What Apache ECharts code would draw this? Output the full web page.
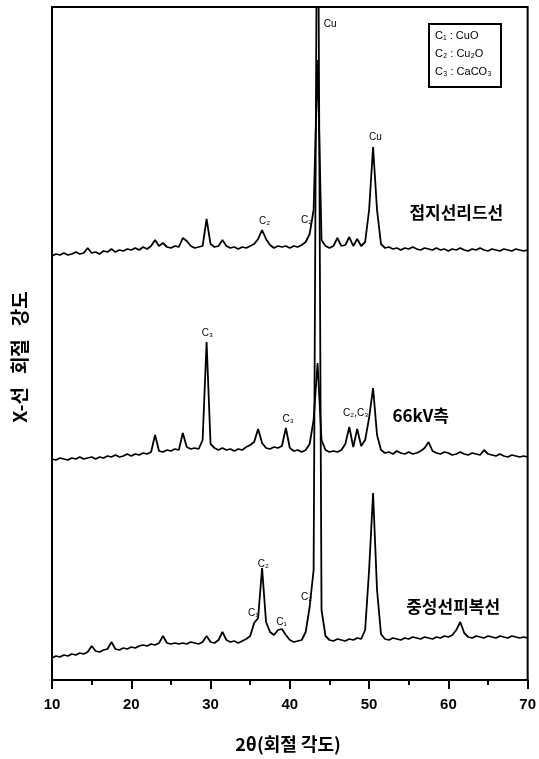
<!DOCTYPE html>
<html><head><meta charset="utf-8">
<script src="https://cdn.jsdelivr.net/npm/echarts@6/dist/echarts.min.js"></script>
<style>html,body{margin:0;padding:0;background:#fff}#c{width:539px;height:759px}</style>
</head><body><div id="c"></div>
<script>
// 2θ grid (degrees)
const twoTheta = [
10.0,10.5,11.0,11.5,12.0,12.5,13.0,13.5,14.0,14.5,
15.0,15.5,16.0,16.5,17.0,17.5,18.0,18.5,19.0,19.5,
20.0,20.5,21.0,21.5,22.0,22.5,23.0,23.5,24.0,24.5,
25.0,25.5,26.0,26.5,27.0,27.5,28.0,28.5,29.0,29.5,
30.0,30.5,31.0,31.5,32.0,32.5,33.0,33.5,34.0,34.5,
35.0,35.5,36.0,36.5,37.0,37.5,38.0,38.5,39.0,39.5,
40.0,40.5,41.0,41.5,42.0,42.5,43.0,43.5,44.0,44.5,
45.0,45.5,46.0,46.5,47.0,47.5,48.0,48.5,49.0,49.5,
50.0,50.5,51.0,51.5,52.0,52.5,53.0,53.5,54.0,54.5,
55.0,55.5,56.0,56.5,57.0,57.5,58.0,58.5,59.0,59.5,
60.0,60.5,61.0,61.5,62.0,62.5,63.0,63.5,64.0,64.5,
65.0,65.5,66.0,66.5,67.0,67.5,68.0,68.5,69.0,69.5,
70.0];

// 접지선리드선 (stacked, arbitrary intensity units)
const groundLead = [
424,426,425,427,425,426,428,426,427,432,
427,428,426,429,428,431,428,430,429,431,
430,432,430,433,431,434,440,434,437,433,
432,434,433,442,439,434,432,433,434,461,
436,433,434,440,434,432,433,431,433,432,
434,436,441,450,441,435,432,434,433,434,
432,434,433,435,438,446,470,620,440,434,
432,434,442,434,435,443,434,441,434,438,
470,533,470,436,432,433,431,432,430,432,
431,433,431,430,432,431,430,432,430,431,
429,431,430,432,430,429,431,430,432,430,
429,431,430,429,431,430,429,431,430,429,
430];

// 66kV측
const side66kV = [
221,220,222,221,220,222,221,223,221,222,
223,221,223,222,224,223,225,223,224,226,
224,226,225,227,226,228,245,229,228,230,
229,231,230,247,233,231,232,231,240,338,
236,232,230,232,230,231,229,231,230,233,
235,238,251,237,232,231,233,232,234,252,
232,229,230,228,230,236,260,317,240,230,
228,229,228,230,236,253,233,251,234,240,
262,292,245,230,227,228,226,229,227,226,
228,226,227,229,232,238,229,227,226,228,
227,225,226,228,226,225,227,226,225,230,
226,225,224,226,224,223,225,224,223,224,
223];

// 중성선피복선
const neutralCover = [
22,24,23,25,24,26,25,27,26,28,
34,29,28,30,31,38,31,30,32,31,
33,32,34,35,34,36,35,37,44,37,
36,37,36,37,36,38,37,36,38,44,
38,37,40,48,40,38,39,37,39,41,
44,57,62,112,58,48,45,50,51,45,
40,38,39,40,48,73,110,900,70,44,
40,39,41,40,39,41,40,42,41,50,
110,187,90,46,41,40,42,41,40,42,
41,43,42,41,43,42,41,43,42,44,
43,45,50,58,47,43,42,44,43,42,
44,43,42,44,43,42,44,43,42,43,
42];

const traceNames = ['접지선리드선', '66kV측', '중성선피복선'];
const xTickMin = 10, xTickMax = 70, xTickStep = 10;

// peak annotations: text, 2θ, intensity position
const peakLabels = [
  ['Cu', 45.1, 656], ['Cu', 50.8, 543], ['C₂', 36.8, 459], ['C₂', 42.1, 460],
  ['C₃', 29.6, 347], ['C₃', 39.8, 261], ['C₂,C₃', 48.3, 267],
  ['C₂', 36.65, 116], ['C₁', 35.4, 67], ['C₁', 38.95, 58], ['C₂', 42.1, 83]
];
const traceLabelPos = [[61.0, 467], [56.5, 264], [60.6, 73]];
const legendLines = ['C₁ : CuO', 'C₂ : Cu₂O', 'C₃ : CaCO₃'];

const chart = echarts.init(document.getElementById('c'), null, {renderer: 'canvas'});
const latin = '"Liberation Sans","DejaVu Sans",Arial,sans-serif';
const kr = '"Noto Sans CJK KR","Noto Sans",sans-serif';
const mk = arr => twoTheta.map((x, i) => [x, arr[i]]);
const lineStyle = {color: '#000', width: 1.8};

chart.setOption({
  animation: false,
  backgroundColor: '#fff',
  grid: {left: 52, right: 11, top: 7, bottom: 79, show: true, borderColor: '#000', borderWidth: 2},
  xAxis: {
    type: 'value', min: xTickMin, max: xTickMax, interval: xTickStep,
    axisLine: {lineStyle: {color: '#000', width: 2}},
    axisTick: {show: true, inside: false, length: 9, lineStyle: {color: '#000', width: 2}},
    minorTick: {show: true, splitNumber: 2, length: 5, lineStyle: {color: '#000', width: 2}},
    axisLabel: {color: '#000', fontSize: 15, fontWeight: 'bold', fontFamily: latin, margin: 17},
    splitLine: {show: false}
  },
  yAxis: {
    type: 'value', min: 0, max: 673,
    axisLine: {show: true, lineStyle: {color: '#000', width: 2}},
    axisTick: {show: false}, axisLabel: {show: false}, splitLine: {show: false}
  },
  series: [
    {name: traceNames[0], type: 'line', data: mk(groundLead), showSymbol: false, symbol: 'none', lineStyle, clip: true},
    {name: traceNames[1], type: 'line', data: mk(side66kV), showSymbol: false, symbol: 'none', lineStyle, clip: true},
    {name: traceNames[2], type: 'line', data: mk(neutralCover), showSymbol: false, symbol: 'none', lineStyle, clip: true}
  ]
});

const px = (x, y) => chart.convertToPixel({gridIndex: 0}, [x, y]);
const graphics = [];
peakLabels.forEach(([t, x, y]) => {
  const p = px(x, y);
  graphics.push({type: 'text', x: p[0], y: p[1], style: {text: t, fill: '#000', font: '10px ' + latin, textAlign: 'center', textVerticalAlign: 'middle'}});
});
traceNames.forEach((t, i) => {
  const p = px(traceLabelPos[i][0], traceLabelPos[i][1]);
  graphics.push({type: 'text', x: p[0], y: p[1], style: {text: t, fill: '#000', font: 'bold 17px ' + kr, textAlign: 'center', textVerticalAlign: 'middle'}});
});
// legend box
graphics.push({type: 'rect', shape: {x: 429, y: 24, width: 72, height: 63}, style: {fill: '#fff', stroke: '#000', lineWidth: 2}});
legendLines.forEach((t, i) => {
  graphics.push({type: 'text', x: 435, y: 36 + i * 18, style: {text: t, fill: '#000', font: '11px ' + latin, textAlign: 'left', textVerticalAlign: 'middle'}});
});
// axis titles
graphics.push({type: 'text', x: 288, y: 744, style: {text: '2θ(회절 각도)', fill: '#000', font: 'bold 18px ' + kr, textAlign: 'center', textVerticalAlign: 'middle'}});
graphics.push({type: 'text', x: 20, y: 357, rotation: Math.PI / 2, style: {text: 'X-선   회절   강도', fill: '#000', font: 'bold 19px ' + kr, textAlign: 'center', textVerticalAlign: 'middle'}});
chart.setOption({graphic: graphics});
</script>
</body></html>
